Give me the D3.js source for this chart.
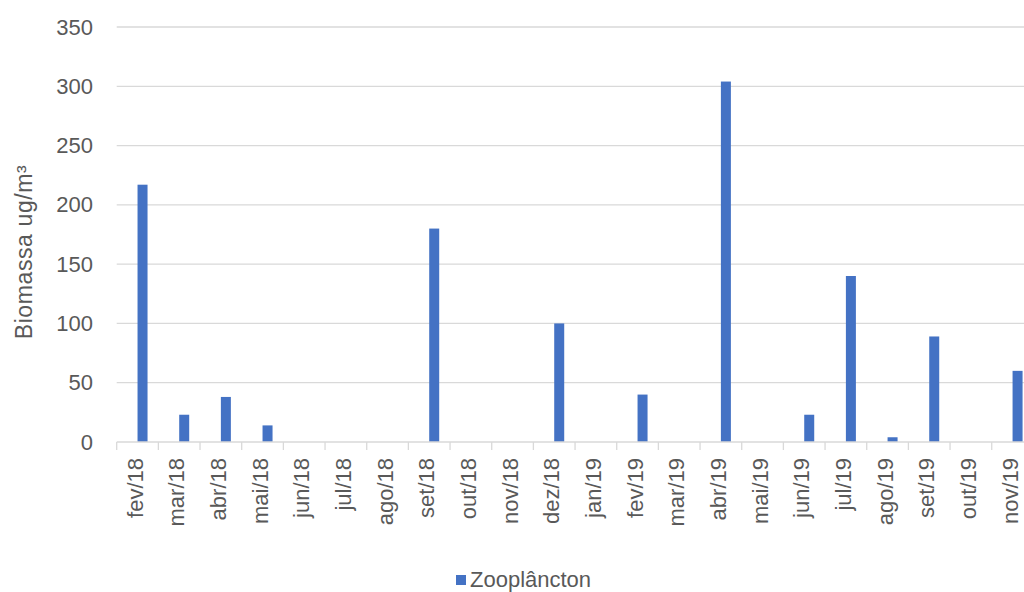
<!DOCTYPE html>
<html>
<head>
<meta charset="utf-8">
<script src="https://cdn.jsdelivr.net/npm/d3@7"></script>
<style>
  html, body { margin: 0; padding: 0; background: #ffffff; }
  svg { display: block; }
  text { font-family: "Liberation Sans", Arial, sans-serif; fill: #595959; }
</style>
</head>
<body>
<svg id="chart" width="1024" height="592"></svg>
<script>
// Meses de coleta
const months = ["fev/18", "mar/18", "abr/18", "mai/18", "jun/18", "jul/18", "ago/18", "set/18",
  "out/18", "nov/18", "dez/18", "jan/19", "fev/19", "mar/19", "abr/19", "mai/19", "jun/19",
  "jul/19", "ago/19", "set/19", "out/19", "nov/19"];

// Biomassa do zooplâncton (ug/m³)
const zooplancton = [217, 23, 38, 14, 0, 0, 0, 180, 0, 0, 100, 0, 40, 0, 304, 0, 23, 140, 4, 89, 0, 60];

const yTicks = [0, 50, 100, 150, 200, 250, 300, 350];
const seriesName = "Zooplâncton";
// Two bar slots per month (clustered layout); the series sits in the second slot
const slots = ["", seriesName];

const svg = d3.select("#chart");
const plotLeft = 116.7, plotRight = 1033.4, plotTop = 27, plotBottom = 442;

const x = d3.scaleBand().domain(months).range([plotLeft, plotRight]).padding(0);
const slotWidth = 10;
const inner = d3.scaleBand().domain(slots)
  .range([(x.bandwidth() - 2 * slotWidth) / 2, (x.bandwidth() + 2 * slotWidth) / 2]);
const y = d3.scaleLinear().domain([0, 350]).range([plotBottom, plotTop]);

// Horizontal gridlines
svg.append("g").selectAll("line")
  .data(yTicks.filter(d => d > 0))
  .join("line")
  .attr("x1", plotLeft).attr("x2", 1024)
  .attr("y1", d => y(d)).attr("y2", d => y(d))
  .attr("stroke", "#d9d9d9").attr("stroke-width", 1.3);

// Y axis labels
const yAxis = d3.axisLeft(y).tickValues(yTicks).tickSize(0).tickPadding(0);
const gy = svg.append("g").attr("transform", `translate(93,0)`).call(yAxis);
gy.select(".domain").remove();
gy.selectAll("text").attr("font-size", 22).attr("fill", "#595959")
  .style("font-family", "'Liberation Sans', Arial, sans-serif");

// Bars
svg.append("g").selectAll("rect")
  .data(months.map((m, i) => ({ m, v: zooplancton[i] })))
  .join("rect")
  .attr("x", d => x(d.m) + inner(seriesName))
  .attr("width", inner.bandwidth())
  .attr("y", d => y(d.v))
  .attr("height", d => y(0) - y(d.v))
  .attr("fill", "#4472c4");

// X axis with category boundary ticks
const gx = svg.append("g").attr("transform", `translate(0,${plotBottom})`);
gx.append("line").attr("x1", plotLeft).attr("x2", 1024).attr("y1", 0).attr("y2", 0)
  .attr("stroke", "#d9d9d9").attr("stroke-width", 1.3);
gx.selectAll("line.tick").data(months)
  .join("line").attr("class", "tick")
  .attr("x1", d => x(d)).attr("x2", d => x(d))
  .attr("y1", 0).attr("y2", 8)
  .attr("stroke", "#d9d9d9").attr("stroke-width", 1.3);
gx.selectAll("text").data(months)
  .join("text")
  .attr("transform", d => `translate(${x(d) + x.bandwidth() / 2 + 5},16) rotate(-90)`)
  .attr("text-anchor", "end")
  .attr("font-size", 22)
  .text(d => d);

// Y axis title
svg.append("text")
  .attr("transform", "translate(32,252) rotate(-90)")
  .attr("text-anchor", "middle")
  .attr("font-size", 23)
  .attr("letter-spacing", 0.6)
  .text("Biomassa ug/m³");

// Legend
const lg = svg.append("g").attr("transform", "translate(456,575)");
lg.append("rect").attr("width", 10).attr("height", 10).attr("fill", "#4472c4");
lg.append("text").attr("x", 14).attr("y", 12).attr("font-size", 22).text(seriesName);
</script>
</body>
</html>
